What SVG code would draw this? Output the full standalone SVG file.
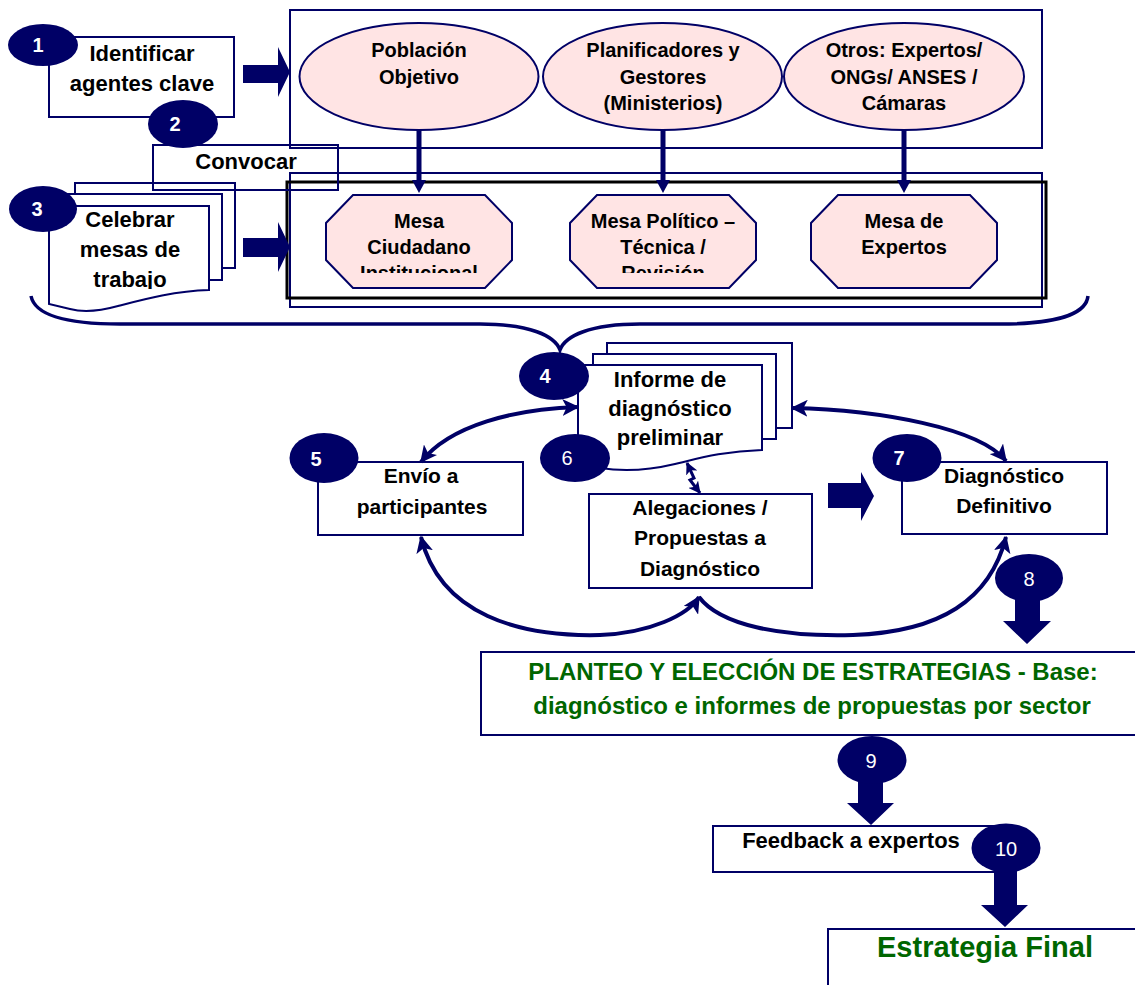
<svg xmlns="http://www.w3.org/2000/svg" width="1135" height="985" viewBox="0 0 1135 985">
<style>
.box{fill:#fff;stroke:#000066;stroke-width:2}
.open{fill:none;stroke:#000066;stroke-width:2}
.pink{fill:#FFE4E4;stroke:#000066;stroke-width:2}
.num{fill:#000066}
.blk{fill:#000066}
.t{font-family:"Liberation Sans",Arial,sans-serif;font-weight:bold;fill:#000;text-anchor:middle}
.n{font-family:"Liberation Sans",Arial,sans-serif;fill:#fff;text-anchor:middle;font-size:20px}
.nb{font-weight:bold}
.g{fill:#006600}
.c{fill:none;stroke:#000066;stroke-width:4}
</style>
<defs>
<marker id="ah" viewBox="0 0 12 12" refX="11" refY="6" markerUnits="userSpaceOnUse" markerWidth="17" markerHeight="17" orient="auto-start-reverse">
<path d="M0,0 L12,6 L0,12 L3,6 z" fill="#000066"/>
</marker>
<marker id="ahs" viewBox="0 0 12 12" refX="11" refY="6" markerUnits="userSpaceOnUse" markerWidth="12" markerHeight="12" orient="auto-start-reverse">
<path d="M0,0 L12,6 L0,12 L3,6 z" fill="#000066"/>
</marker>
<clipPath id="clipOct"><rect x="300" y="190" width="720" height="83"/></clipPath>
<clipPath id="clipDoc"><rect x="40" y="200" width="200" height="89"/></clipPath>
</defs>

<!-- containers -->
<g id="agents-container">
<rect class="open" x="290" y="10" width="752" height="138"/>
</g>
<g id="tables-container">
<rect class="open" x="290" y="173" width="752" height="134"/>
<rect fill="none" stroke="#000" stroke-width="3" x="287" y="182" width="759" height="116"/>
</g>

<!-- step 1 -->
<g id="step1">
<rect class="box" x="49" y="37" width="185" height="80"/>
<text class="t" font-size="22" x="142" y="61">Identificar</text>
<text class="t" font-size="22" x="142" y="91">agentes clave</text>
<ellipse class="num" cx="43" cy="45" rx="35" ry="21"/>
<text class="n nb" x="38" y="52">1</text>
</g>

<!-- agents -->
<g id="poblacion">
<ellipse class="pink" cx="419" cy="76.5" rx="119.5" ry="53.5"/>
<text class="t" font-size="20" x="419" y="57">Población</text>
<text class="t" font-size="20" x="419" y="84">Objetivo</text>
</g>
<g id="planificadores">
<ellipse class="pink" cx="662.5" cy="76.5" rx="119.5" ry="53.5"/>
<text class="t" font-size="20" x="663" y="57">Planificadores y</text>
<text class="t" font-size="20" x="663" y="84">Gestores</text>
<text class="t" font-size="20" x="663" y="110">(Ministerios)</text>
</g>
<g id="otros">
<ellipse class="pink" cx="904" cy="76.5" rx="120" ry="53.5"/>
<text class="t" font-size="20" x="904" y="57">Otros: Expertos/</text>
<text class="t" font-size="20" x="904" y="84">ONGs/ ANSES /</text>
<text class="t" font-size="20" x="904" y="110">Cámaras</text>
</g>

<!-- mesas -->
<g id="mesa-ciudadano">
<polygon class="pink" points="353,195 485,195 512,223 512,260 485,288 353,288 326,260 326,223"/>
<g clip-path="url(#clipOct)">
<text class="t" font-size="20" x="419" y="228">Mesa</text>
<text class="t" font-size="20" x="419" y="254">Ciudadano</text>
<text class="t" font-size="20" x="419" y="280">Institucional</text>
</g>
</g>
<g id="mesa-politico">
<polygon class="pink" points="597,195 729,195 756,223 756,260 729,288 597,288 570,260 570,223"/>
<g clip-path="url(#clipOct)">
<text class="t" font-size="20" x="663" y="228">Mesa Político –</text>
<text class="t" font-size="20" x="663" y="254">Técnica /</text>
<text class="t" font-size="20" x="663" y="280">Revisión</text>
</g>
</g>
<g id="mesa-expertos">
<polygon class="pink" points="838,195 970,195 997,223 997,260 970,288 838,288 811,260 811,223"/>
<text class="t" font-size="20" x="904" y="228">Mesa de</text>
<text class="t" font-size="20" x="904" y="254">Expertos</text>
</g>

<!-- step 3 -->
<g id="step3">
<rect class="box" x="75" y="183" width="160" height="85"/>
<rect class="box" x="63" y="194" width="159" height="86"/>
<path class="box" d="M49,206 H209 V290 C175,291 145,299 118,306 C100,311 85,313 70,309 L49,304 Z"/>
<g clip-path="url(#clipDoc)">
<text class="t" font-size="22" x="130" y="227">Celebrar</text>
<text class="t" font-size="22" x="130" y="257">mesas de</text>
<text class="t" font-size="22" x="130" y="287">trabajo</text>
</g>
<ellipse class="num" cx="43" cy="209" rx="34" ry="23"/>
<text class="n nb" x="37" y="216">3</text>
</g>

<!-- step 2 -->
<g id="step2">
<rect class="open" x="153" y="145" width="185" height="45"/>
<text class="t" font-size="22" x="246" y="169">Convocar</text>
<ellipse class="num" cx="183" cy="124" rx="35" ry="24"/>
<text class="n nb" x="175" y="131">2</text>
</g>

<!-- step 4 -->
<g id="step4">
<rect class="box" x="607" y="343" width="185" height="85"/>
<rect class="box" x="593" y="354" width="183" height="85"/>
<path class="box" d="M578,365 H762 V450 C725,451 700,458 675,464 C650,470 625,472 600,468 L578,464 Z"/>
<text class="t" font-size="22" x="670" y="387">Informe de</text>
<text class="t" font-size="22" x="670" y="416">diagnóstico</text>
<text class="t" font-size="22" x="670" y="445">preliminar</text>
<ellipse class="num" cx="554" cy="376" rx="35" ry="24"/>
<text class="n nb" x="545" y="383">4</text>
</g>
<g id="step6">
<ellipse class="num" cx="575" cy="458" rx="35" ry="24"/>
<text class="n" x="567" y="465">6</text>
</g>

<!-- step 5 -->
<g id="step5">
<rect class="box" x="318" y="462" width="205" height="73"/>
<text class="t" font-size="21" x="421" y="483">Envío a</text>
<text class="t" font-size="21" x="422" y="514">participantes</text>
<ellipse class="num" cx="324" cy="458" rx="34.5" ry="25"/>
<text class="n nb" x="316" y="466">5</text>
</g>

<!-- alegaciones -->
<g id="alegaciones">
<rect class="box" x="589" y="494" width="223" height="94"/>
<text class="t" font-size="21" x="700" y="515">Alegaciones /</text>
<text class="t" font-size="21" x="700" y="545">Propuestas a</text>
<text class="t" font-size="21" x="700" y="576">Diagnóstico</text>
</g>

<!-- step 7 -->
<g id="step7">
<rect class="box" x="902" y="462" width="205" height="72"/>
<text class="t" font-size="21" x="1004" y="483">Diagnóstico</text>
<text class="t" font-size="21" x="1004" y="513">Definitivo</text>
<ellipse class="num" cx="907" cy="458" rx="34.5" ry="24"/>
<text class="n nb" x="899" y="465">7</text>
</g>

<!-- planteo -->
<g id="planteo">
<rect class="box" x="481" y="652" width="660" height="83"/>
<text class="t g" font-size="24" x="813" y="680">PLANTEO Y ELECCIÓN DE ESTRATEGIAS - Base:</text>
<text class="t g" font-size="24" x="812" y="714">diagnóstico e informes de propuestas por sector</text>
</g>

<!-- step 8 -->
<g id="step8">
<polygon class="blk" points="1015,595 1040,595 1040,621 1051,621 1027,644 1003,621 1015,621"/>
<ellipse class="num" cx="1029" cy="578" rx="34" ry="24"/>
<text class="n" x="1029" y="586">8</text>
</g>

<!-- step 9 -->
<g id="step9">
<polygon class="blk" points="858,780 883,780 883,803 894,803 871,825 847,803 858,803"/>
<ellipse class="num" cx="872" cy="760" rx="34.5" ry="24"/>
<text class="n" x="871" y="768">9</text>
</g>

<!-- feedback -->
<g id="feedback">
<rect class="box" x="713" y="826" width="285" height="46"/>
<text class="t" font-size="22" x="851" y="848">Feedback a expertos</text>
</g>

<!-- step 10 -->
<g id="step10">
<polygon class="blk" points="994,868 1017,868 1017,905 1028,905 1005,927 981,905 994,905"/>
<ellipse class="num" cx="1006" cy="848" rx="34.5" ry="24.5"/>
<text class="n" x="1006" y="856">10</text>
</g>

<!-- final -->
<g id="estrategia-final">
<rect class="box" x="828" y="929" width="320" height="70"/>
<text class="t g" font-size="29" x="985" y="957">Estrategia Final</text>
</g>

<!-- connectors -->
<g id="connectors">
<polygon class="blk" points="243,65 278,65 278,47 290,72 278,97 278,83 243,83"/>
<polygon class="blk" points="243,238 278,238 278,222 290,247 278,272 278,257 243,257"/>
<polygon class="blk" points="828,483 861,483 861,472 874,496 861,521 861,508 828,508"/>
<line x1="419" y1="130" x2="419" y2="182" stroke="#000066" stroke-width="5"/>
<polygon class="blk" points="412,180 426,180 419,193"/>
<line x1="663" y1="130" x2="663" y2="182" stroke="#000066" stroke-width="5"/>
<polygon class="blk" points="656,180 670,180 663,193"/>
<line x1="904" y1="130" x2="904" y2="182" stroke="#000066" stroke-width="5"/>
<polygon class="blk" points="897,180 911,180 904,193"/>
<path fill="none" stroke="#000066" stroke-width="3.5" d="M31,296 C35,316 70,324 120,324 L480,324 C530,324 555,336 560,350 C565,336 590,324 640,324 L1000,324 C1050,324 1086,316 1088,296"/>
<path class="c" marker-start="url(#ah)" marker-end="url(#ah)" d="M421,462 C450,425 515,409 578,407"/>
<path class="c" marker-start="url(#ah)" marker-end="url(#ah)" d="M792,408 C880,410 980,428 1006,461"/>
<path class="c" marker-start="url(#ah)" marker-end="url(#ah)" d="M421,537 C440,615 520,637 600,635 C650,633 688,615 699,597"/>
<path class="c" marker-end="url(#ah)" d="M699,597 C720,625 780,637 853,635 C940,632 990,600 1006,537"/>
<path fill="none" stroke="#000066" stroke-width="3" marker-start="url(#ahs)" marker-end="url(#ahs)" d="M687,463 L694,478 L690,480 L700,493"/>
</g>
</svg>
